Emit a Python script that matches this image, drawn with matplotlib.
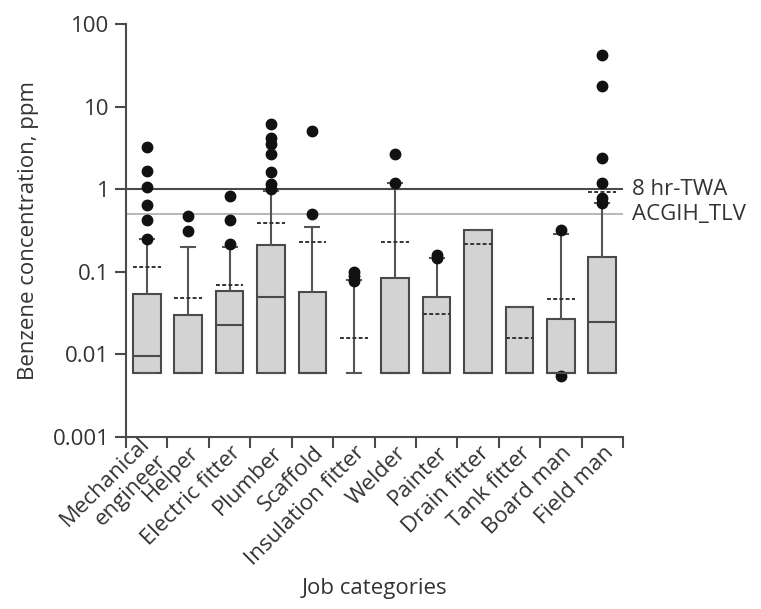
import matplotlib.pyplot as plt
from matplotlib.ticker import FixedLocator, NullLocator, FixedFormatter
from matplotlib.transforms import blended_transform_factory, ScaledTranslation

# job categories and box statistics (ppm)
jobs = ["Mechanical\nengineer", "Helper", "Electric fitter", "Plumber", "Scaffold",
        "Insulation fitter", "Welder", "Painter", "Drain fitter", "Tank fitter",
        "Board man", "Field man"]
q1 = [0.006] * 12
medians = [0.0095, 0.006, 0.0225, 0.049, 0.006, 0.006, 0.006, 0.006, 0.006, 0.006, 0.006, 0.025]
q3 = [0.054, 0.030, 0.058, 0.21, 0.057, 0.006, 0.083, 0.050, 0.32, 0.037, 0.027, 0.15]
whis_low = [0.006] * 12
whis_high = [0.25, 0.20, 0.20, 0.95, 0.35, 0.08, 1.18, 0.145, 0.32, 0.037, 0.29, 0.68]
means = [0.115, 0.048, 0.069, 0.39, 0.23, 0.016, 0.23, 0.031, 0.215, 0.016, 0.047, 0.93]
outliers = [
    [3.2, 1.65, 1.05, 0.65, 0.42, 0.25],
    [0.47, 0.31],
    [0.82, 0.42, 0.215],
    [6.1, 4.15, 3.5, 2.7, 1.6, 1.15, 1.0],
    [5.0, 0.5],
    [0.10, 0.088, 0.078],
    [2.7, 1.18],
    [0.16, 0.145],
    [],
    [],
    [0.32, 0.0055],
    [42, 18, 2.4, 1.2, 0.78, 0.68],
]
no_box = [5]  # insulation fitter: whisker only
twa = 1.0
tlv = 0.5
y_ticks = [0.001, 0.01, 0.1, 1, 10, 100]
y_labels = ["0.001", "0.01", "0.1", "1", "10", "100"]

plt.rcParams['font.family'] = ['Open Sans', 'DejaVu Sans']
plt.rcParams['font.size'] = 16
text_col = '#333333'
line_col = '#4a4a4a'

fig = plt.figure(figsize=(7.61, 6.09), dpi=100)
ax = fig.add_axes([126 / 761, 1 - 437 / 609, (623 - 126) / 761, (437 - 24) / 609])

stats = []
for i in range(len(jobs)):
    stats.append(dict(med=medians[i], q1=q1[i], q3=q3[i], whislo=whis_low[i],
                      whishi=whis_high[i], fliers=outliers[i], mean=means[i]))

parts = ax.bxp(stats, positions=range(len(jobs)), widths=0.67, capwidths=0.34,
               patch_artist=True, showmeans=True, meanline=True,
               boxprops=dict(facecolor='#d3d3d3', edgecolor=line_col, linewidth=1.5),
               medianprops=dict(color=line_col, linewidth=1.5),
               whiskerprops=dict(color='#555555', linewidth=1.5),
               capprops=dict(color='#555555', linewidth=1.5),
               flierprops=dict(marker='o', markerfacecolor='#111111',
                               markeredgecolor='#111111', markersize=7.5),
               meanprops=dict(color='#333333', linestyle=(0, (2.0, 1.2)), linewidth=1.4))
for i in no_box:
    parts['boxes'][i].set_visible(False)
    parts['medians'][i].set_visible(False)

ax.axhline(twa, color='#4a4a4a', linewidth=1.5, zorder=1)
ax.axhline(tlv, color='#aaaaaa', linewidth=1.2, zorder=1)
tr = blended_transform_factory(ax.transAxes, ax.transData)
ax.text(1.018, twa, "8 hr-TWA", transform=tr, va='center', ha='left', color=text_col)
ax.text(1.018, tlv, "ACGIH_TLV", transform=tr, va='center', ha='left', color=text_col)

ax.set_yscale('log')
ax.set_ylim(0.001, 100)
ax.set_xlim(-0.5, len(jobs) - 0.5)
ax.yaxis.set_major_locator(FixedLocator(y_ticks))
ax.yaxis.set_major_formatter(FixedFormatter(y_labels))
ax.yaxis.set_minor_locator(NullLocator())

ax.set_xticks(range(len(jobs)))
ax.set_xticklabels(jobs, rotation=45, ha='right', va='center', rotation_mode='anchor',
                   multialignment='right')
ax.set_xticks([i - 0.5 for i in range(len(jobs) + 1)], minor=True)
ax.tick_params(axis='x', which='major', length=0, pad=9, colors=text_col)
ax.tick_params(axis='x', which='minor', length=8, width=1.5, color=line_col)
ax.tick_params(axis='y', length=8, width=1.5, color=line_col, labelcolor=text_col, pad=4)
shift = ScaledTranslation(8 / 100, 0, fig.dpi_scale_trans)
for lbl in ax.get_xticklabels():
    lbl.set_transform(lbl.get_transform() + shift)

for s in ['top', 'right']:
    ax.spines[s].set_visible(False)
for s in ['left', 'bottom']:
    ax.spines[s].set_color(line_col)
    ax.spines[s].set_linewidth(1.5)

ax.set_ylabel("Benzene concentration, ppm", color=text_col, labelpad=10)
ax.set_xlabel("Job categories", color=text_col, labelpad=6)

fig.savefig('out.png', dpi=100)
